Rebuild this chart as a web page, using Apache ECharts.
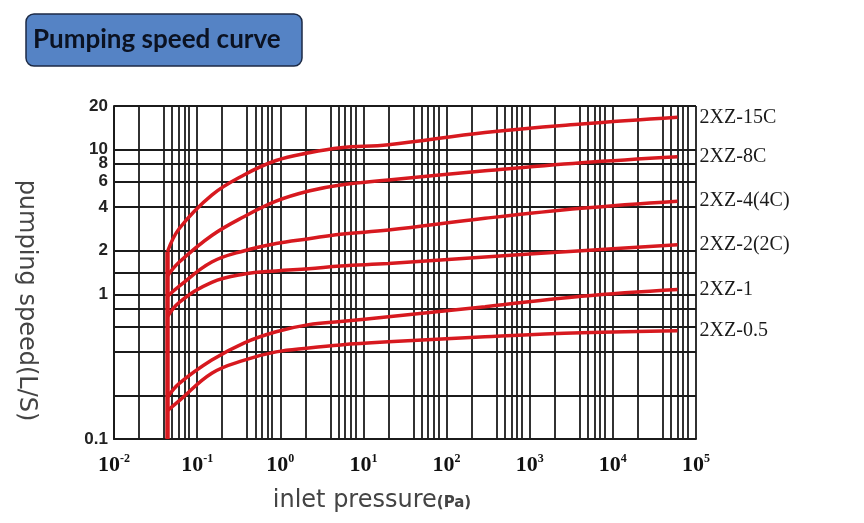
<!DOCTYPE html>
<html>
<head>
<meta charset="utf-8">
<title>Pumping speed curve</title>
<script src="https://cdn.jsdelivr.net/npm/echarts@6.0.0/dist/echarts.min.js"></script>
<style>
    html, body { margin: 0; padding: 0; background: #fff; }
    #chart { width: 864px; height: 523px; }
</style>
</head>
<body>
<div id="chart"></div>
<script>
// inlet pressure (Pa) at the points
var pressure = [0.044, 0.061, 0.15, 0.37, 0.89, 2.2, 5.3, 20, 290, 4200, 60000];

// pumping speed (L/S) of each pump model at those pressures
var speed15C = [1.97, 2.85, 4.85, 6.7, 8.4, 9.5, 10.3, 10.8, 13.1, 15.0, 16.7];
var speed8C = [1.34, 1.67, 2.55, 3.45, 4.4, 5.17, 5.69, 6.17, 7.13, 8.11, 8.93];
var speed4C = [0.97, 1.14, 1.67, 2.0, 2.24, 2.42, 2.6, 2.78, 3.35, 3.93, 4.4];
var speed2C = [0.7, 0.88, 1.21, 1.38, 1.45, 1.5, 1.57, 1.63, 1.81, 2.0, 2.2];
var speed1 = [0.194, 0.242, 0.351, 0.462, 0.551, 0.617, 0.648, 0.7, 0.82, 0.97, 1.08];
var speed05 = [0.157, 0.184, 0.285, 0.351, 0.4, 0.426, 0.447, 0.469, 0.508, 0.542, 0.56];

var models = ['2XZ-15C', '2XZ-8C', '2XZ-4(4C)', '2XZ-2(2C)', '2XZ-1', '2XZ-0.5'];
var speeds = [speed15C, speed8C, speed4C, speed2C, speed1, speed05];

// common vertical start of all curves
var wallPressure = [0.044, 0.044];
var wallSpeed = [0.1, 1.97];

// tick labels and log paper lines
var xTicks = [0.01, 0.1, 1, 10, 100, 1000, 10000, 100000];
var yTicks = [0.1, 1, 2, 4, 6, 8, 10, 20];
var xSteps = [1, 2, 4, 5, 6, 7, 8];
var yGrid = [0.1, 0.2, 0.4, 0.6, 0.8, 1, 1.4, 2, 4, 6, 8, 10, 20];

var xGrid = [];
for (var d = 0; d < xTicks.length - 1; d++) {
    for (var s = 0; s < xSteps.length; s++) {
        xGrid.push(+(xTicks[d] * xSteps[s]).toPrecision(3));
    }
}
xGrid.push(xTicks[xTicks.length - 1]);

var red = '#d7191f';
var ink = '#1b1b1b';

var series = [];

for (var i = 0; i < models.length; i++) {
    var pts = [];
    for (var j = 0; j < pressure.length; j++) {
        pts.push([pressure[j], speeds[i][j]]);
    }
    series.push({
        name: models[i],
        type: 'line',
        data: pts,
        smooth: 0.4,
        showSymbol: false,
        silent: true,
        lineStyle: { color: red, width: 3.5 },
        endLabel: {
            show: true,
            formatter: '{a}',
            distance: 22,
            color: '#1a1a1a',
            fontFamily: 'Liberation Serif',
            fontSize: 20
        }
    });
}

series.push({
    name: 'start',
    type: 'line',
    data: [[wallPressure[0], wallSpeed[0]], [wallPressure[1], wallSpeed[1]]],
    showSymbol: false,
    silent: true,
    lineStyle: { color: red, width: 4.5 }
});

var myChart = echarts.init(document.getElementById('chart'));

var option = {
    animation: false,
    title: {
        text: 'Pumping speed curve',
        left: 26,
        top: 14,
        padding: [13, 22, 13, 7],
        backgroundColor: '#5583c5',
        borderColor: '#1c2a45',
        borderWidth: 1.5,
        borderRadius: 8,
        textStyle: {
            fontFamily: 'Lato',
            fontWeight: 'bold',
            fontSize: 26,
            color: '#0b1222'
        }
    },
    grid: {
        left: 114,
        right: 168,
        top: 106,
        bottom: 84
    },
    xAxis: {
        type: 'log',
        logBase: 10,
        min: 0.01,
        max: 100000,
        name: '{a|inlet pressure}{b|(Pa)}',
        nameLocation: 'middle',
        nameGap: 50,
        nameTextStyle: {
            padding: [0, 66, 0, 0],
            rich: {
                a: { fontFamily: 'DejaVu Sans', fontSize: 24, color: '#444' },
                b: { fontFamily: 'DejaVu Sans', fontWeight: 'bold', fontSize: 15, color: '#444', padding: [4, 0, 0, 0] }
            }
        },
        axisLine: { lineStyle: { color: ink, width: 2 } },
        axisTick: { show: false, customValues: xGrid },
        splitLine: { show: true, lineStyle: { color: ink, width: 1.8 } },
        axisLabel: {
            customValues: xTicks,
            margin: 14,
            formatter: function(val) {
                return '{b|10}{s|' + Math.round(Math.log10(val)) + '}';
            },
            rich: {
                b: { fontFamily: 'Liberation Serif', fontWeight: 'bold', fontSize: 22, color: '#111' },
                s: { fontFamily: 'Liberation Serif', fontWeight: 'bold', fontSize: 12, color: '#111', padding: [0, 0, 12, 0] }
            }
        }
    },
    yAxis: {
        type: 'log',
        logBase: 10,
        min: 0.1,
        max: 20,
        name: 'pumping speed(L/S)',
        nameLocation: 'middle',
        nameRotate: -90,
        nameGap: 76,
        nameTextStyle: {
            fontFamily: 'DejaVu Sans',
            fontSize: 24,
            color: '#444',
            padding: [0, 0, 0, 56]
        },
        axisLine: { lineStyle: { color: ink, width: 2 } },
        axisTick: { show: false, customValues: yGrid },
        splitLine: { show: true, lineStyle: { color: ink, width: 1.8 } },
        axisLabel: {
            customValues: yTicks,
            margin: 6,
            fontFamily: 'Liberation Sans',
            fontWeight: 'bold',
            fontSize: 17,
            color: '#222'
        }
    },
    series: series
};

myChart.setOption(option);
</script>
</body>
</html>
